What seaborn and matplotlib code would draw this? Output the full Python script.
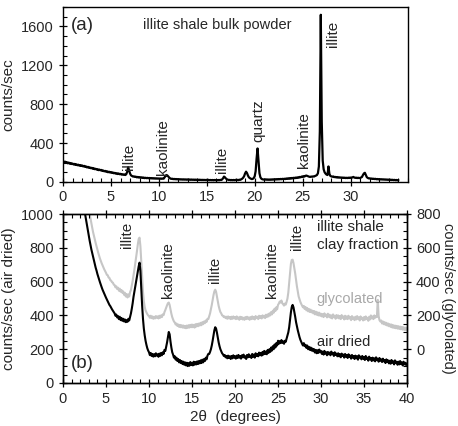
import numpy as np
import pandas as pd
import matplotlib
matplotlib.use("Agg")
import matplotlib.pyplot as plt
from matplotlib.ticker import MultipleLocator
import seaborn as sns

# ---------------- data ----------------
# (a) bulk powder, 2theta 0.0 .. 35.0 step 0.1
bulk_start, bulk_step = 0.0, 0.1
bulk_counts = [
    205, 198, 210, 196, 204, 192, 200, 188, 195, 185,
    190, 180, 186, 176, 182, 172, 178, 168, 174, 165,
    170, 160, 166, 156, 160, 150, 156, 146, 150, 142,
    146, 136, 142, 132, 136, 128, 132, 122, 128, 120,
    124, 114, 118, 110, 114, 106, 110, 100, 106, 98,
    102, 94, 98, 90, 94, 86, 90, 82, 88, 80,
    84, 76, 80, 74, 78, 72, 80, 105, 152, 118,
    86, 68, 62, 56, 58, 52, 55, 48, 52, 46,
    50, 44, 48, 42, 46, 40, 44, 39, 43, 38,
    42, 37, 41, 36, 40, 35, 39, 34, 38, 34,
    37, 33, 37, 32, 36, 34, 48, 62, 72, 66,
    55, 44, 36, 32, 34, 29, 32, 28, 31, 27,
    30, 26, 29, 25, 28, 24, 28, 24, 27, 23,
    27, 23, 26, 22, 26, 22, 25, 21, 25, 21,
    24, 20, 24, 20, 23, 19, 23, 19, 22, 19,
    22, 18, 22, 18, 21, 18, 21, 17, 21, 18,
    21, 17, 21, 18, 22, 20, 26, 38, 56, 48,
    36, 28, 24, 20, 22, 18, 21, 18, 21, 18,
    22, 18, 22, 19, 24, 22, 28, 34, 44, 60,
    88, 106, 92, 66, 48, 40, 34, 30, 32, 40,
    58, 110, 240, 345, 220, 90, 48, 34, 28, 26,
    24, 28, 23, 27, 22, 26, 22, 27, 23, 28,
    24, 29, 25, 30, 26, 31, 27, 32, 28, 33,
    29, 34, 30, 36, 32, 38, 33, 40, 35, 42,
    37, 44, 39, 46, 41, 48, 44, 52, 48, 56,
    52, 60, 56, 64, 66, 62, 58, 54, 52, 56,
    54, 58, 56, 62, 66, 72, 90, 160, 520, 1720,
    620, 220, 130, 100, 86, 76, 72, 160, 84, 62,
    58, 54, 57, 50, 53, 47, 51, 45, 49, 44,
    47, 42, 46, 41, 45, 40, 44, 40, 45, 41,
    46, 42, 48, 52, 46, 42, 45, 40, 44, 40,
    42, 46, 52, 72, 88, 95, 72, 50, 42, 37,
    38, 33, 36, 31, 34, 30, 33, 28, 31, 27,
    30, 26, 29, 25, 28, 24, 27, 23, 26, 22,
    25, 21, 24, 20, 23, 19, 22, 18, 21, 17,
    20,
]

# (b) clay fraction, 2theta 2.0 .. 40.0 step 0.1
clay_start, clay_step = 2.0, 0.1
air_dried = [
    1250, 1210, 1170, 1130, 1090, 1040, 990, 960, 930, 900,
    870, 842, 815, 790, 768, 745, 722, 700, 682, 665,
    645, 628, 610, 596, 580, 566, 552, 540, 528, 515,
    505, 494, 484, 472, 462, 455, 445, 436, 428, 420,
    412, 398, 405, 388, 396, 378, 392, 372, 385, 368,
    380, 364, 376, 360, 372, 362, 380, 370, 392, 412,
    440, 472, 510, 540, 570, 598, 628, 660, 690, 712,
    665, 560, 460, 380, 322, 282, 250, 226, 206, 192,
    182, 165, 178, 160, 172, 156, 170, 158, 176, 162,
    170, 155, 174, 160, 178, 164, 182, 172, 196, 190,
    215, 240, 270, 302, 288, 245, 210, 182, 168, 150,
    158, 138, 150, 130, 142, 122, 136, 118, 130, 112,
    126, 108, 122, 104, 120, 100, 118, 102, 124, 106,
    120, 104, 126, 108, 124, 110, 128, 112, 130, 116,
    134, 118, 138, 122, 142, 130, 150, 140, 162, 172,
    172, 184, 200, 222, 250, 282, 312, 330, 322, 298,
    268, 240, 218, 200, 188, 176, 170, 160, 166, 152,
    160, 146, 162, 148, 158, 142, 160, 146, 164, 150,
    158, 144, 162, 148, 166, 150, 160, 144, 164, 152,
    168, 150, 158, 142, 166, 152, 170, 154, 162, 148,
    172, 156, 168, 150, 176, 160, 172, 158, 180, 164,
    178, 162, 184, 168, 190, 172, 186, 170, 196, 178,
    200, 184, 210, 192, 218, 200, 228, 210, 236, 222,
    250, 232, 248, 236, 254, 238, 246, 232, 250, 244,
    262, 280, 300, 330, 372, 418, 450, 462, 448, 420,
    392, 360, 336, 312, 292, 272, 256, 244, 232, 222,
    236, 218, 226, 208, 222, 200, 214, 196, 210, 192,
    204, 188, 200, 180, 196, 176, 194, 178, 198, 182,
    190, 172, 186, 168, 190, 174, 182, 164, 184, 170,
    180, 164, 186, 170, 178, 160, 182, 166, 174, 158,
    176, 158, 170, 152, 174, 160, 168, 150, 172, 156,
    166, 148, 170, 154, 162, 144, 166, 150, 160, 142,
    162, 146, 158, 138, 164, 150, 156, 140, 160, 144,
    152, 136, 160, 142, 150, 132, 156, 140, 148, 130,
    150, 134, 146, 128, 152, 138, 144, 126, 148, 132,
    140, 124, 144, 128, 136, 118, 140, 124, 134, 116,
    132, 114, 136, 120, 128, 110, 134, 118, 126, 108,
    126, 110, 130, 112, 122, 104, 126, 110, 120, 106,
    116,
]
glycolated = [
    1160, 1130, 1100, 1070, 1040, 1010, 980, 950, 920, 890,
    840, 800, 772, 745, 718, 692, 670, 648, 628, 608,
    588, 570, 552, 536, 522, 508, 496, 484, 472, 462,
    452, 440, 438, 424, 422, 408, 406, 396, 394, 382,
    380, 366, 372, 356, 364, 346, 358, 340, 350, 334,
    342, 322, 334, 312, 326, 306, 324, 312, 338, 350,
    376, 404, 436, 470, 506, 540, 580, 620, 652, 660,
    610, 520, 420, 340, 284, 250, 230, 218, 208, 200,
    196, 186, 198, 184, 194, 180, 192, 182, 196, 186,
    194, 182, 198, 186, 200, 190, 206, 202, 220, 232,
    246, 260, 272, 276, 262, 236, 210, 190, 176, 164,
    158, 146, 152, 138, 146, 132, 144, 130, 142, 128,
    140, 126, 138, 124, 140, 126, 142, 128, 144, 130,
    146, 130, 144, 128, 148, 134, 150, 136, 152, 140,
    156, 142, 160, 148, 164, 154, 170, 162, 180, 178,
    196, 212, 236, 262, 292, 320, 342, 352, 340, 312,
    282, 256, 236, 220, 212, 200, 198, 190, 194, 184,
    192, 180, 194, 182, 190, 178, 192, 180, 194, 182,
    190, 178, 194, 180, 188, 174, 192, 180, 190, 176,
    186, 174, 190, 178, 192, 180, 188, 174, 190, 178,
    194, 180, 190, 176, 196, 184, 192, 178, 198, 186,
    196, 182, 200, 188, 198, 184, 204, 190, 206, 194,
    212, 200, 220, 206, 228, 216, 240, 226, 248, 236,
    262, 270, 282, 276, 288, 272, 266, 258, 270, 264,
    280, 300, 336, 390, 450, 505, 528, 530, 510, 480,
    448, 410, 372, 340, 312, 296, 280, 268, 258, 248,
    256, 238, 250, 230, 244, 224, 238, 220, 234, 218,
    228, 212, 226, 206, 222, 204, 218, 200, 216, 198,
    210, 194, 208, 190, 212, 196, 204, 188, 210, 192,
    204, 186, 200, 182, 206, 190, 198, 180, 202, 186,
    200, 182, 196, 178, 202, 186, 194, 176, 198, 180,
    194, 178, 198, 182, 190, 172, 196, 180, 188, 172,
    192, 176, 196, 180, 188, 170, 194, 178, 186, 170,
    190, 174, 194, 178, 186, 168, 192, 176, 200, 182,
    194, 178, 200, 186, 196, 190, 292, 196, 172, 164,
    170, 152, 164, 148, 160, 144, 156, 140, 152, 136,
    148, 132, 146, 128, 142, 126, 140, 124, 138, 122,
    136, 120, 134, 118, 132, 116, 130, 114, 128, 112,
    124,
]

# annotation labels: (text, x, y-bottom)
labels_a = [("illite", 6.9, 120), ("kaolinite", 10.4, 75), ("illite", 16.6, 95),
            ("quartz", 20.4, 410), ("kaolinite", 25.1, 140), ("illite", 28.2, 1390)]
labels_b = [("illite", 7.4, 800), ("kaolinite", 12.2, 500), ("illite", 17.7, 590),
            ("kaolinite", 24.3, 500), ("illite", 27.2, 785)]

# ---------------- build frames ----------------
bulk_x = np.round(bulk_start + bulk_step * np.arange(len(bulk_counts)), 2)
clay_x = np.round(clay_start + clay_step * np.arange(len(air_dried)), 2)
df_a = pd.DataFrame({"two_theta": bulk_x, "counts": bulk_counts})
df_b = pd.DataFrame({"two_theta": clay_x, "air": air_dried, "gly": glycolated})

sns.set_style("ticks")
plt.rcParams["font.family"] = ["Liberation Sans", "DejaVu Sans"]
plt.rcParams["font.size"] = 10

fig = plt.figure(figsize=(4.58, 4.26), dpi=100)
W, H = 458, 426
ax_a = fig.add_axes([63 / W, 1 - 182 / H, (408 - 63) / W, (182 - 7) / H])
ax_b = fig.add_axes([63 / W, 1 - 383 / H, (407 - 63) / W, (383 - 214) / H])

def style_ticks(ax, **kw):
    ax.tick_params(which="major", direction="inout", length=6, width=0.9,
                   labelsize=10.5, color="black", **kw)
    ax.tick_params(which="minor", direction="in", length=3, width=0.8,
                   color="black", **kw)
    for s in ax.spines.values():
        s.set_linewidth(1.0)
        s.set_color("black")

# ---- panel (a)
sns.lineplot(data=df_a, x="two_theta", y="counts", ax=ax_a, color="black",
             linewidth=1.6, estimator=None)
ax_a.set_xlim(0, 36)
ax_a.set_ylim(0, 1800)
ax_a.xaxis.set_major_locator(MultipleLocator(5))
ax_a.xaxis.set_minor_locator(MultipleLocator(1))
ax_a.yaxis.set_major_locator(MultipleLocator(400))
ax_a.yaxis.set_minor_locator(MultipleLocator(100))
ax_a.set_xticks([0, 5, 10, 15, 20, 25, 30])
ax_a.set_yticks([0, 400, 800, 1200, 1600])
ax_a.set_xlabel("")
ax_a.set_ylabel("counts/sec", fontsize=11, labelpad=4)
for side in ["top", "right"]:
    ax_a.spines[side].set_visible(True)
style_ticks(ax_a)
ax_a.tick_params(axis="x", pad=3)
ax_a.text(2.0, 1605, "(a)", fontsize=13.5, ha="center", va="center")
ax_a.text(16.1, 1615, "illite shale bulk powder", fontsize=10.5, ha="center", va="center")
for t, x, y in labels_a:
    ax_a.text(x, y, t, rotation=90, ha="center", va="bottom", fontsize=11)

# ---- panel (b)
ax_g = ax_b.twinx()
sns.lineplot(data=df_b, x="two_theta", y="gly", ax=ax_g, color="#c6c6c6",
             linewidth=1.5, estimator=None)
sns.lineplot(data=df_b, x="two_theta", y="air", ax=ax_b, color="black",
             linewidth=1.5, estimator=None)
ax_b.set_zorder(ax_g.get_zorder() + 1)
ax_b.patch.set_visible(False)

ax_b.set_xlim(0, 40)
ax_b.set_ylim(0, 1000)
ax_g.set_ylim(-200, 800)
ax_b.xaxis.set_major_locator(MultipleLocator(5))
ax_b.xaxis.set_minor_locator(MultipleLocator(1))
ax_b.yaxis.set_major_locator(MultipleLocator(200))
ax_b.yaxis.set_minor_locator(MultipleLocator(50))
ax_g.set_yticks([0, 200, 400, 600, 800])
ax_g.yaxis.set_minor_locator(MultipleLocator(50))
ax_b.set_xlabel("2θ  (degrees)", fontsize=11, labelpad=3)
ax_b.set_ylabel("counts/sec (air dried)", fontsize=11, labelpad=4)
ax_g.set_ylabel("counts/sec (glycolated)", fontsize=10.5, rotation=270, labelpad=10)
style_ticks(ax_b, top=True)
style_ticks(ax_g)
for t, x, y in labels_b:
    ax_b.text(x, y, t, rotation=90, ha="center", va="bottom", fontsize=11)
ax_b.text(29.5, 923, "illite shale", fontsize=11, ha="left", va="center")
ax_b.text(29.5, 816, "clay fraction", fontsize=11, ha="left", va="center")
ax_b.text(29.5, 497, "glycolated", fontsize=10.5, ha="left", va="center", color="#a8a8a8")
ax_b.text(29.5, 243, "air dried", fontsize=10.5, ha="left", va="center")
ax_b.text(2.3, 118, "(b)", fontsize=13.5, ha="center", va="center")

fig.savefig("out.png", dpi=100)
